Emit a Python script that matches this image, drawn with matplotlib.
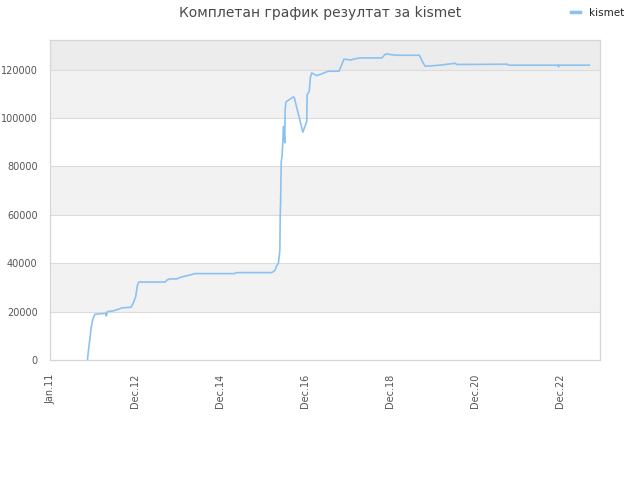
import matplotlib
matplotlib.use("Agg")
import matplotlib.pyplot as plt

# months counted from the "Jan.11" tick (one tick every 24 units)
months = [10.6, 10.8, 11.3, 11.6, 12.1, 12.7, 15.8, 15.9, 16.2, 17.9, 19.6, 20.2,
          22.9, 23.5, 24.2, 24.7, 25.1, 32.5, 33.1, 33.9, 35.8, 36.7, 38.6, 40.0,
          40.9, 52.2, 52.5, 62.6, 63.5, 64.0, 64.5, 64.7, 64.9, 65.0, 65.1, 65.3,
          65.5, 65.7, 65.9, 66.3, 66.4, 66.6, 68.7, 69.0, 71.4, 72.5, 72.6, 73.2,
          73.5, 73.9, 75.3, 76.7, 78.6, 81.6, 82.4, 83.0, 84.2, 84.7, 86.1, 87.5,
          93.7, 94.3, 94.9, 96.0, 97.9, 104.3, 105.0, 105.9, 107.3, 110.1, 113.4,
          114.4, 114.8, 118.6, 129.1, 129.4, 143.5, 143.6, 143.7, 152.3]
scores = [300, 3400, 9100, 13200, 17000, 18900, 19300, 18200, 20000, 20300, 21100, 21500,
          21800, 23500, 26200, 31000, 32200, 32200, 33100, 33500, 33500, 34100, 34800, 35300,
          35700, 35700, 36100, 36100, 37000, 38900, 40000, 42700, 45500, 59300, 64800, 82100,
          84100, 89000, 96500, 89700, 103500, 106600, 108700, 108300, 94100, 98600, 109700, 111000,
          116600, 118600, 117500, 118200, 119300, 119300, 122100, 124300, 124100, 123900, 124400, 124800,
          124800, 125800, 126500, 126200, 125900, 125900, 123700, 121400, 121500, 121800, 122400,
          122600, 122100, 122100, 122200, 121800, 121800, 121100, 121800, 121800]

tick_months = [0, 24, 48, 72, 96, 120, 144]
tick_labels = ["Jan.11", "Dec.12", "Dec.14", "Dec.16", "Dec.18", "Dec.20", "Dec.22"]
y_ticks = [0, 20000, 40000, 60000, 80000, 100000, 120000]

title = "Комплетан график резултат за kismet"
series_name = "kismet"

fig = plt.figure(figsize=(6.4, 4.8), dpi=100)
ax = fig.add_axes([50 / 640, 1 - 360 / 480, 550 / 640, 320 / 480])

y_max = 132200
# alternating horizontal bands behind the line
for i, lo in enumerate(y_ticks):
    hi = y_ticks[i + 1] if i + 1 < len(y_ticks) else y_max
    if lo == y_ticks[-1]:
        ax.axhspan(lo, hi, color="#ececec", lw=0, zorder=0)
    elif i % 2 == 1:
        ax.axhspan(lo, hi, color="#f2f2f2", lw=0, zorder=0)
for t in y_ticks[1:]:
    ax.axhline(t, color="#dcdcdc", lw=0.8, zorder=1)

ax.plot(months, scores, color="#8cc2f2", lw=1.2, label=series_name, zorder=3)

ax.set_xlim(0, 550 / 85 * 24)
ax.set_ylim(0, y_max)
ax.set_xticks(tick_months)
ax.set_xticklabels(tick_labels, rotation=90, fontsize=7, color="#555555")
ax.set_yticks(y_ticks)
ax.set_yticklabels([str(v) for v in y_ticks], fontsize=7, color="#555555")
ax.tick_params(length=0, pad=10)
ax.tick_params(axis="y", pad=9)
for s in ax.spines.values():
    s.set_color("#d6d6d6")
    s.set_linewidth(0.9)

fig.text(0.5, 1 - 13 / 480, title, ha="center", va="center", fontsize=10, color="#4a4a4a")
leg = fig.legend(loc="center right", bbox_to_anchor=(1 - 12 / 640, 1 - 13 / 480), frameon=False,
                 fontsize=7.5, handlelength=0.9, handletextpad=0.8, borderaxespad=0.0)
for h in leg.get_lines():
    h.set_linewidth(2.5)
for t in leg.get_texts():
    t.set_color("#222222")

fig.savefig("out.png", dpi=100)
